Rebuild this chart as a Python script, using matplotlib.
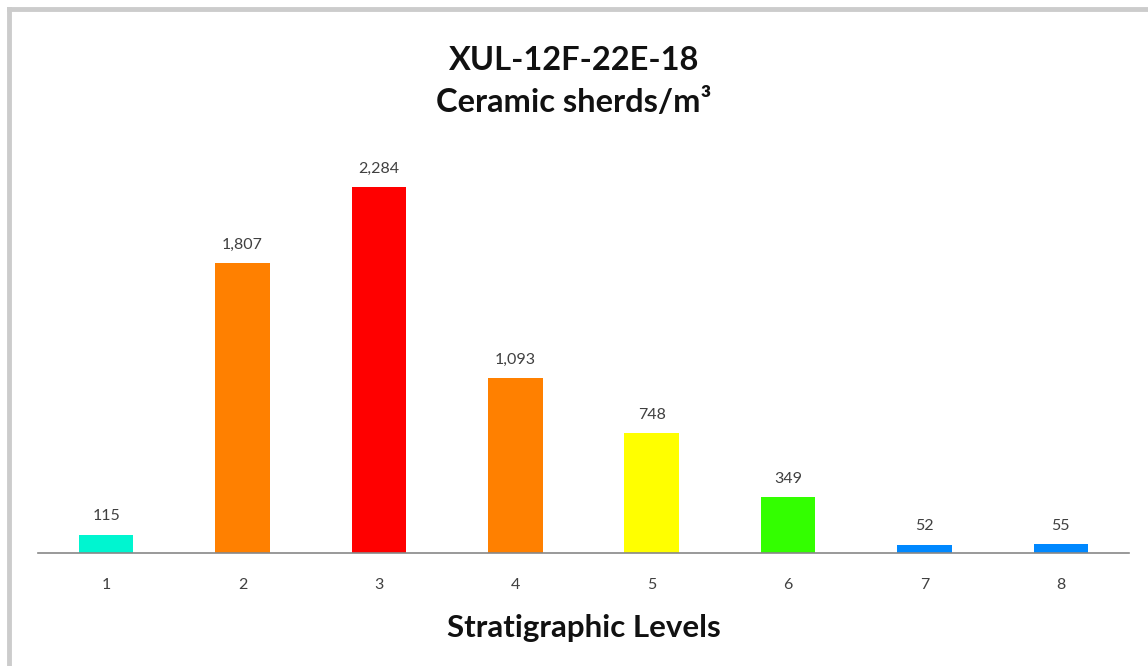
import matplotlib.pyplot as plt
from matplotlib.lines import Line2D

# Niveles estratigráficos y densidad de tiestos
levels = ["1", "2", "3", "4", "5", "6", "7", "8"]
sherds = [115, 1807, 2284, 1093, 748, 349, 52, 55]
colors = ["#00F5D0", "#FF8000", "#FF0000", "#FF8000", "#FFFF00", "#33FF00", "#0088FF", "#0088FF"]

plt.rcParams['font.family'] = ['Lato', 'DejaVu Sans']

fig = plt.figure(figsize=(11.48, 6.66), dpi=100)
W, H = 1148, 666
ax = fig.add_axes([38 / W, 1 - 553 / H, (1129 - 38) / W, (553 - 140) / H])

x = range(1, len(levels) + 1)
bars = ax.bar(x, sherds, width=0.4, color=colors)
for xi, v in zip(x, sherds):
    ax.text(xi, v + 70, f"{v:,}", ha="center", va="bottom", fontsize=11.5, color="#404040")

ax.set_xlim(0.5, 8.5)
ax.set_ylim(0, 2577)
ax.set_xticks(list(x))
ax.set_xticklabels(levels, fontsize=11.5, color="#404040")
ax.tick_params(axis="x", length=0, pad=18)
ax.set_yticks([])
for s in ["top", "right", "left"]:
    ax.spines[s].set_visible(False)
ax.spines["bottom"].set_color("#888888")
ax.spines["bottom"].set_linewidth(1.2)

ax.set_xlabel("Stratigraphic Levels", fontsize=22.5, fontweight="bold", color="#111111", labelpad=16)

fig.text(0.5, 1 - 60 / H, "XUL-12F-22E-18", ha="center", va="center",
         fontsize=23.5, fontweight="bold", color="#111111")
fig.text(0.5, 1 - 103 / H, "Ceramic sherds/m³", ha="center", va="center",
         fontsize=23.5, fontweight="bold", color="#111111")

# borde gris arriba y a la izquierda
fig.add_artist(Line2D([9 / W, 9 / W], [0, 1 - 9 / H], color="#cccccc", lw=3.5, transform=fig.transFigure))
fig.add_artist(Line2D([9 / W, 1], [1 - 9 / H, 1 - 9 / H], color="#cccccc", lw=3.5, transform=fig.transFigure))

fig.savefig("out.png", dpi=100)
